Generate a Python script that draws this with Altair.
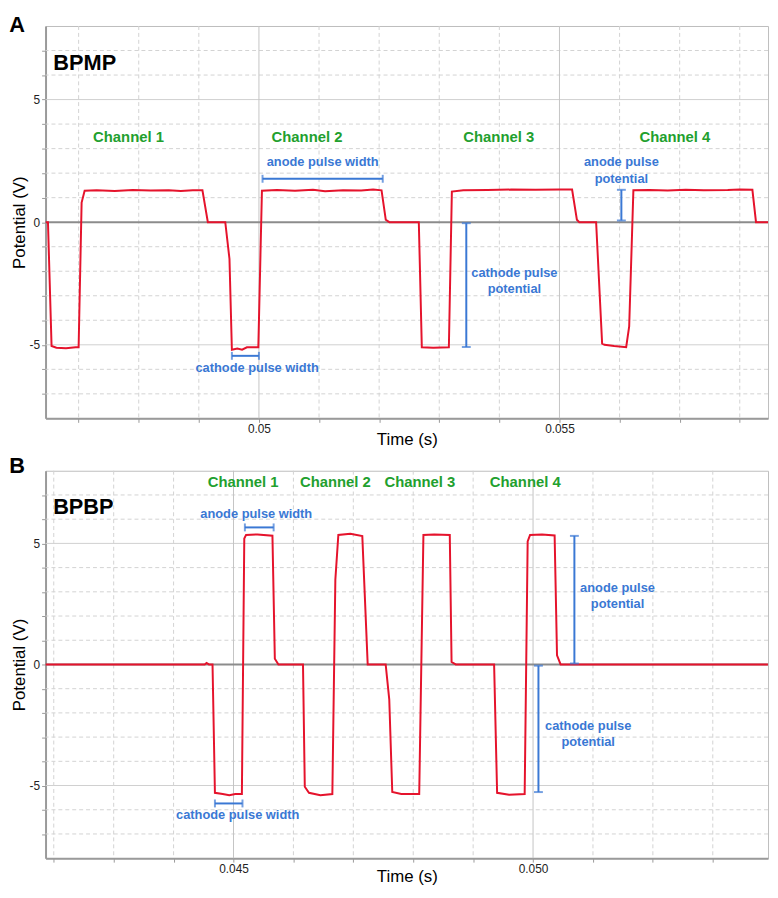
import altair as alt
import pandas as pd

FONT = "Liberation Sans"
RED = "#e5132c"
BLUE = "#3a78d4"
GREEN = "#22a02e"

# ---------------- Panel A (BPMP) trace ----------------
a_t = [0.04645, 0.04649, 0.04655, 0.04663, 0.04679, 0.04695, 0.04700, 0.04705, 0.04710,
       0.04730, 0.04760, 0.04790, 0.04820, 0.04850, 0.04870, 0.04890, 0.04906, 0.04915,
       0.04944, 0.04951, 0.04955, 0.04964, 0.04972, 0.04980, 0.04999, 0.05005, 0.05030,
       0.05060, 0.05090, 0.05110, 0.05140, 0.05170, 0.05190, 0.05204, 0.05211, 0.05217,
       0.05266, 0.05271, 0.05290, 0.05316, 0.05321, 0.05340, 0.05380, 0.05420, 0.05460,
       0.05500, 0.05521, 0.05529, 0.05533, 0.05561, 0.05571, 0.05575, 0.05591, 0.05611,
       0.05616, 0.05623, 0.05650, 0.05680, 0.05710, 0.05740, 0.05780, 0.05800, 0.05821,
       0.05827, 0.05847]
a_v = [0.0, 0.0, -5.05, -5.12, -5.14, -5.10, -5.10, 0.80, 1.28,
       1.30, 1.27, 1.31, 1.29, 1.30, 1.27, 1.30, 1.30, 0.0,
       0.0, -1.50, -5.20, -5.15, -5.20, -5.10, -5.10, 1.28, 1.31,
       1.28, 1.32, 1.26, 1.30, 1.29, 1.33, 1.30, 0.10, 0.0,
       0.0, -5.10, -5.12, -5.10, 1.25, 1.30, 1.31, 1.33, 1.32,
       1.33, 1.33, 0.10, 0.0, 0.0, -4.95, -5.00, -5.05, -5.10,
       -4.25, 1.30, 1.31, 1.29, 1.32, 1.30, 1.31, 1.33, 1.32,
       0.0, 0.0]

# ---------------- Panel B (BPBP) trace ----------------
b_t = [0.04186, 0.04300, 0.04452, 0.04455, 0.04459, 0.04465, 0.04469, 0.04482, 0.04493,
       0.04503, 0.04514, 0.04518, 0.04521, 0.04540, 0.04565, 0.04569, 0.04575, 0.04616,
       0.04619, 0.04626, 0.04645, 0.04665, 0.04670, 0.04675, 0.04695, 0.04715, 0.04724,
       0.04754, 0.04760, 0.04765, 0.04780, 0.04810, 0.04817, 0.04835, 0.04861, 0.04864,
       0.04871, 0.04935, 0.04940, 0.04960, 0.04986, 0.04991, 0.04995, 0.05015, 0.05036,
       0.05040, 0.05046, 0.05200, 0.05392]
b_v = [0.0, 0.0, 0.0, 0.06, 0.0, 0.0, -5.30, -5.35, -5.40,
       -5.35, -5.35, 5.20, 5.35, 5.37, 5.32, 0.24, 0.0, 0.0,
       -5.05, -5.30, -5.40, -5.35, 3.50, 5.35, 5.40, 5.30, 0.0,
       0.0, -1.45, -5.27, -5.35, -5.35, 5.35, 5.37, 5.35, 0.10,
       0.0, 0.0, -5.30, -5.38, -5.35, 5.08, 5.35, 5.37, 5.33,
       0.38, 0.0, 0.0, 0.0]

# ---------------- axes / grid ----------------
y_domain = [-8, 8]
y_ticks = [-7, -6, -5, -4, -3, -2, -1, 0, 1, 2, 3, 4, 5, 6, 7]
y_major = [-5, 5]
y_labels = [-5, 0, 5]

a_domain = [0.04645, 0.05847]
a_xminor = [0.047, 0.048, 0.049, 0.051, 0.052, 0.053, 0.054, 0.056, 0.057, 0.058]
a_xmajor = [0.050, 0.055]
a_xlabels = ["0.05", "0.055"]

b_domain = [0.041863, 0.053922]
b_xminor = [0.042, 0.043, 0.044, 0.046, 0.047, 0.048, 0.049, 0.051, 0.052, 0.053]
b_xmajor = [0.045, 0.050]
b_xlabels = ["0.045", "0.050"]

channels = ["Channel 1", "Channel 2", "Channel 3", "Channel 4"]

# ---------------- annotations A ----------------
a_ch_t = [0.04783, 0.05080, 0.05399, 0.05692]
a_ch_v = [3.49, 3.49, 3.49, 3.49]
a_note_text = ["anode pulse width", "cathode pulse width", "cathode pulse", "potential",
               "anode pulse", "potential"]
a_note_t = [0.05106, 0.04997, 0.05425, 0.05425, 0.05603, 0.05603]
a_note_v = [2.45, -5.93, -2.08, -2.74, 2.44, 1.77]
a_hbr_t = [0.05006, 0.04955]
a_hbr_t2 = [0.05206, 0.05000]
a_hbr_v = [1.77, -5.45]
a_vbr_t = [0.05345, 0.05603]
a_vbr_v = [-0.04, 0.07]
a_vbr_v2 = [-5.09, 1.32]

# ---------------- annotations B ----------------
b_ch_t = [0.04516, 0.04670, 0.04811, 0.04987]
b_ch_v = [7.54, 7.54, 7.54, 7.54]
b_note_text = ["anode pulse width", "cathode pulse width", "anode pulse", "potential",
               "cathode pulse", "potential"]
b_note_t = [0.04538, 0.04507, 0.05141, 0.05141, 0.05092, 0.05092]
b_note_v = [6.22, -6.21, 3.16, 2.50, -2.54, -3.19]
b_hbr_t = [0.04519, 0.04469]
b_hbr_t2 = [0.04567, 0.04515]
b_hbr_v = [5.66, -5.74]
b_vbr_t = [0.05069, 0.05009]
b_vbr_v = [5.31, -0.05]
b_vbr_v2 = [0.04, -5.27]

PLOT_W = 731


def label_expr(values, labels):
    expr = "''"
    for val, lab in reversed(list(zip(values, labels))):
        expr = f"abs(datum.value - {val}) < 1e-7 ? '{lab}' : ({expr})"
    return expr


def make_panel(tr_t, tr_v, xdom, xminor, xmajor, xlabels,
               ch_t, ch_v, nt, ntt, nvv, hbt, hbt2, hbv, vbt, vbv, vbv2,
               name, name_t, name_v, letter, letter_t, letter_v,
               height, title_pad):
    xaxis = alt.Axis(values=sorted(xminor + xmajor), labelExpr=label_expr(xmajor, xlabels),
                     title="Time (s)", grid=False, tickSize=4, labelPadding=1,
                     titlePadding=title_pad)
    yaxis = alt.Axis(values=y_ticks,
                     labelExpr="indexof([" + ",".join(str(v) for v in y_labels) + "], datum.value) >= 0 ? '' + datum.value : ''",
                     title="Potential (V)", grid=False, tickSize=4, labelPadding=2,
                     titlePadding=1)
    xs = alt.Scale(domain=xdom, nice=False, zero=False)
    ys = alt.Scale(domain=y_domain, nice=False, zero=False)
    X = alt.X("t:Q", scale=xs, axis=xaxis)
    Y = alt.Y("v:Q", scale=ys, axis=yaxis)

    ymin = [v for v in y_ticks if v not in y_major and v != 0]
    grid_hd = alt.Chart(pd.DataFrame({"v": ymin})).mark_rule(
        color="#d2d2d2", strokeDash=[4, 3], strokeWidth=1).encode(y=Y)
    grid_hs = alt.Chart(pd.DataFrame({"v": y_major})).mark_rule(
        color="#cfcfcf", strokeWidth=1).encode(y=Y)
    grid_vd = alt.Chart(pd.DataFrame({"t": xminor})).mark_rule(
        color="#d2d2d2", strokeDash=[4, 3], strokeWidth=1).encode(x=X)
    grid_vs = alt.Chart(pd.DataFrame({"t": xmajor})).mark_rule(
        color="#c4c4c4", strokeWidth=1).encode(x=X)
    zero = alt.Chart(pd.DataFrame({"v": [0]})).mark_rule(
        color="#8c8c8c", strokeWidth=2).encode(y=Y)

    trace = alt.Chart(pd.DataFrame({"t": tr_t, "v": tr_v})).mark_line(
        color=RED, strokeWidth=2, clip=True).encode(x=X, y=Y, order="t:Q")

    chans = alt.Chart(pd.DataFrame({"t": ch_t, "v": ch_v, "s": channels})).mark_text(
        color=GREEN, font=FONT, fontSize=15, fontWeight="bold", align="center",
        baseline="middle").encode(x=X, y=Y, text="s:N")
    notes = alt.Chart(pd.DataFrame({"t": ntt, "v": nvv, "s": nt})).mark_text(
        color=BLUE, font=FONT, fontSize=13, fontWeight="bold", align="center",
        baseline="middle").encode(x=X, y=Y, text="s:N")

    hdf = pd.DataFrame({"t": hbt, "t2": hbt2, "v": hbv})
    hbr = alt.Chart(hdf).mark_rule(color=BLUE, strokeWidth=2).encode(
        x=X, x2="t2:Q", y=Y)
    hcap_df = pd.DataFrame({"t": hbt + hbt2, "v": hbv + hbv})
    hcap = alt.Chart(hcap_df).mark_tick(color=BLUE, orient="vertical", size=8,
                                         thickness=2).encode(x=X, y=Y)
    vdf = pd.DataFrame({"t": vbt, "v": vbv, "v2": vbv2})
    vbr = alt.Chart(vdf).mark_rule(color=BLUE, strokeWidth=2).encode(
        x=X, y=Y, y2="v2:Q")
    vcap_df = pd.DataFrame({"t": vbt + vbt, "v": vbv + vbv2})
    vcap = alt.Chart(vcap_df).mark_tick(color=BLUE, orient="horizontal", size=9,
                                         thickness=2).encode(x=X, y=Y)

    nm = alt.Chart(pd.DataFrame({"t": [name_t], "v": [name_v], "s": [name]})).mark_text(
        color="black", font=FONT, fontSize=22, fontWeight="bold", align="left",
        baseline="middle").encode(x=X, y=Y, text="s:N")
    let = alt.Chart(pd.DataFrame({"t": [letter_t], "v": [letter_v], "s": [letter]})).mark_text(
        color="black", font=FONT, fontSize=22, fontWeight="bold", align="center",
        baseline="middle").encode(x=X, y=Y, text="s:N")

    return alt.layer(grid_hd, grid_hs, grid_vd, grid_vs, zero, trace, hbr, hcap,
                     vbr, vcap, chans, notes, nm, let).properties(width=PLOT_W, height=height)


panel_a = make_panel(a_t, a_v, a_domain, a_xminor, a_xmajor, a_xlabels,
                     a_ch_t, a_ch_v, a_note_text, a_note_t, a_note_v,
                     a_hbr_t, a_hbr_t2, a_hbr_v, a_vbr_t, a_vbr_v, a_vbr_v2,
                     "BPMP", 0.04658, 6.47, "A", 0.045975, 8.05, 397, -3)
panel_b = make_panel(b_t, b_v, b_domain, b_xminor, b_xmajor, b_xlabels,
                     b_ch_t, b_ch_v, b_note_text, b_note_t, b_note_v,
                     b_hbr_t, b_hbr_t2, b_hbr_v, b_vbr_t, b_vbr_v, b_vbr_v2,
                     "BPBP", 0.04199, 6.49, "B", 0.041388, 8.20, 392, -5)

chart = alt.vconcat(panel_a, panel_b, spacing=6).properties(
    padding={"left": 0, "top": 0, "right": 0, "bottom": 0}
).configure_view(stroke="#bdbdbd", strokeWidth=1).configure_axis(
    domainColor="#9a9a9a", domainWidth=2, tickColor="#9a9a9a", tickWidth=1,
    labelFont=FONT, labelFontSize=12, labelColor="#222222",
    titleFont=FONT, titleFontSize=17, titleFontWeight="normal", titleColor="#000000"
)

chart.save("out.html", embed_options={"renderer": "svg", "actions": False})
